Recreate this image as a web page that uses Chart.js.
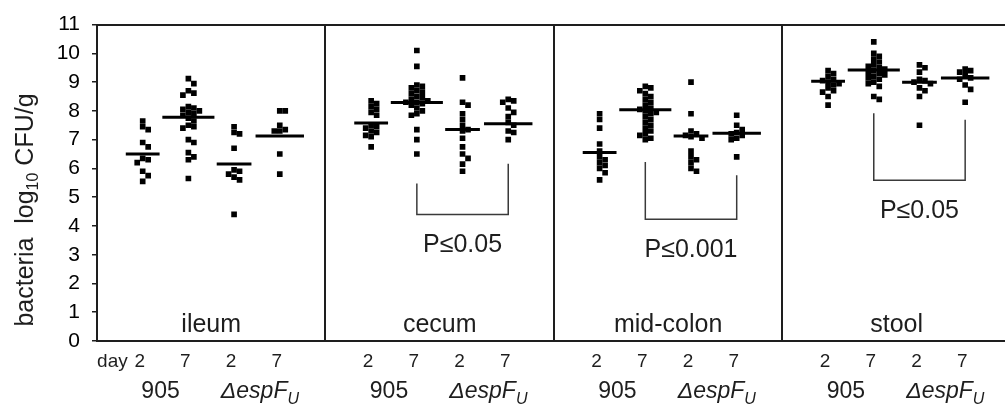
<!DOCTYPE html>
<html>
<head>
<meta charset="utf-8">
<script src="https://cdn.jsdelivr.net/npm/chart.js@4/dist/chart.umd.min.js"></script>
<style>
  html, body { margin: 0; padding: 0; background: #fff; }
  #wrap { width: 1008px; height: 410px; }
</style>
</head>
<body>
<div id="wrap"><canvas id="c"></canvas></div>
<script>
const sites = ["ileum", "cecum", "mid-colon", "stool"];
const dayLabels = ["2", "7", "2", "7"];
const strainLabels = ["905", "ΔespF"];

// log10 CFU/g, groups: 905 day 2, 905 day 7, ΔespFU day 2, ΔespFU day 7
const ileum = [
  [7.65, 7.45, 7.35, 6.9, 6.75, 6.35, 6.3, 6.2, 5.9, 5.75, 5.55],
  [9.12, 8.95, 8.7, 8.62, 8.55, 8.15, 8.1, 8.05, 8.0, 7.95, 7.9, 7.85, 7.75, 7.65, 7.5, 7.45, 7.4, 7.0, 6.9, 6.55, 6.4, 6.3, 5.65],
  [7.45, 7.25, 7.2, 6.7, 5.95, 5.9, 5.8, 5.7, 5.6, 4.4],
  [8.0, 8.0, 7.5, 7.35, 7.3, 7.3, 6.5, 5.8]
];
const cecum = [
  [8.35, 8.25, 8.15, 8.05, 7.95, 7.85, 7.5, 7.45, 7.4, 7.3, 7.25, 7.15, 7.1, 6.75],
  [10.1, 9.55, 8.9, 8.85, 8.8, 8.7, 8.65, 8.6, 8.5, 8.45, 8.4, 8.35, 8.3, 8.3, 8.25, 8.2, 8.1, 8.0, 7.9, 7.85, 7.35, 7.0, 6.5],
  [9.15, 8.3, 8.2, 7.9, 7.7, 7.5, 7.35, 7.3, 7.05, 6.75, 6.5, 6.35, 6.15, 5.9],
  [8.4, 8.35, 8.3, 8.1, 7.95, 7.8, 7.6, 7.5, 7.3, 7.25, 7.0]
];
const midColon = [
  [7.9, 7.7, 7.4, 6.85, 6.6, 6.4, 6.3, 6.2, 6.1, 6.0, 5.85, 5.6],
  [8.85, 8.8, 8.7, 8.6, 8.5, 8.4, 8.3, 8.2, 8.1, 8.05, 8.0, 7.95, 7.9, 7.8, 7.7, 7.6, 7.5, 7.4, 7.3, 7.2, 7.15, 7.05, 7.0],
  [9.0, 7.9, 7.3, 7.2, 7.15, 7.1, 7.05, 6.6, 6.4, 6.3, 6.2, 6.0, 5.9],
  [7.85, 7.5, 7.35, 7.25, 7.2, 7.15, 7.05, 7.0, 6.4]
];
const stool = [
  [9.4, 9.3, 9.2, 9.1, 9.05, 9.0, 8.95, 8.9, 8.8, 8.7, 8.65, 8.5, 8.2],
  [10.4, 10.0, 9.9, 9.8, 9.7, 9.6, 9.55, 9.5, 9.45, 9.4, 9.35, 9.3, 9.25, 9.2, 9.15, 9.1, 9.0, 8.95, 8.85, 8.5, 8.4],
  [9.6, 9.5, 9.35, 9.1, 9.05, 9.0, 8.95, 8.8, 8.7, 8.5, 7.5],
  [9.45, 9.4, 9.35, 9.25, 9.15, 9.1, 8.9, 8.75, 8.3]
];
const medians = [
  [6.5, 7.78, 6.15, 7.13],
  [7.58, 8.29, 7.35, 7.55],
  [6.55, 8.04, 7.13, 7.22],
  [9.03, 9.42, 9.0, 9.14]
];
// [site, from group, to group, left arm top, right arm top, bottom, label]
const brackets = [
  [1, 1, 3, 5.48, 6.16, 4.4, "P≤0.05"],
  [2, 1, 3, 6.22, 5.76, 4.23, "P≤0.001"],
  [3, 1, 3, 7.92, 7.69, 5.59, "P≤0.05"]
];

const allSites = [ileum, cecum, midColon, stool];
const FONT = "'Liberation Sans', Arial, sans-serif";
const INK = "#1e1e1e";
const medianHalf = [0.37, 0.57, 0.38, 0.53];
const X_MAX = 19.85;

const groupX = (s, g) => s * 5 + 1 + g;

// simple beeswarm so squares don't pile on each other
function swarm(values, cx) {
  const placed = [];
  [...values].sort((a, b) => b - a).forEach(v => {
    for (let k = 0; k < 14; k++) {
      const off = (k % 2 ? 1 : -1) * Math.ceil(k / 2) * 0.12;
      const hit = placed.some(p => Math.abs(p.x - (cx + off)) < 0.11 && Math.abs(p.y - v) < 0.17);
      if (!hit) { placed.push({ x: cx + off, y: v }); break; }
    }
  });
  return placed;
}

const datasets = [];
allSites.forEach((groups, s) => {
  groups.forEach((vals, g) => {
    datasets.push({
      type: "scatter",
      data: swarm(vals, groupX(s, g)),
      pointStyle: "rect",
      pointRadius: 4,
      backgroundColor: "#000",
      borderWidth: 0
    });
    const cx = groupX(s, g);
    datasets.push({
      type: "line",
      data: [{ x: cx - medianHalf[g], y: medians[s][g] }, { x: cx + medianHalf[g], y: medians[s][g] }],
      borderColor: "#000",
      borderWidth: 3,
      pointRadius: 0
    });
  });
});
brackets.forEach(([s, a, b, lt, rt, bot]) => {
  datasets.push({
    type: "line",
    data: [
      { x: groupX(s, a), y: lt }, { x: groupX(s, a), y: bot },
      { x: groupX(s, b), y: bot }, { x: groupX(s, b), y: rt }
    ],
    borderColor: "#3a3a3a",
    borderWidth: 1.5,
    pointRadius: 0
  });
});

const textPlugin = {
  id: "texts",
  afterDraw(chart) {
    const { ctx, scales: { x, y } } = chart;
    ctx.save();
    ctx.fillStyle = INK;
    ctx.textBaseline = "alphabetic";

    // site names
    ctx.textAlign = "center";
    ctx.font = "25px " + FONT;
    sites.forEach((s, i) => ctx.fillText(s, x.getPixelForValue(i * 5 + 2.5), y.getPixelForValue(0.33)));

    // p values
    brackets.forEach(([s, a, b, lt, rt, bot, label]) => {
      ctx.fillText(label, x.getPixelForValue(groupX(s, 2)), y.getPixelForValue(bot) + 38);
    });

    // day row
    ctx.font = "19px " + FONT;
    sites.forEach((_, s) => {
      dayLabels.forEach((d, g) => ctx.fillText(d, x.getPixelForValue(groupX(s, g)) - 3, 367));
    });
    ctx.textAlign = "right";
    ctx.fillText("day", x.getPixelForValue(1) - 15, 367);

    // strain row
    sites.forEach((_, s) => {
      ctx.textAlign = "center";
      ctx.font = "23px " + FONT;
      ctx.fillText(strainLabels[0], x.getPixelForValue(groupX(s, 0) + 0.5) - 5, 398);
      ctx.textAlign = "left";
      ctx.font = "italic 23px " + FONT;
      const w1 = ctx.measureText(strainLabels[1]).width;
      ctx.font = "italic 16px " + FONT;
      const w2 = ctx.measureText("U").width;
      const left = x.getPixelForValue(groupX(s, 2) + 0.5) + 3 - (w1 + w2) / 2;
      ctx.font = "italic 23px " + FONT;
      ctx.fillText(strainLabels[1], left, 398);
      ctx.font = "italic 16px " + FONT;
      ctx.fillText("U", left + w1, 404);
    });

    // y axis title with subscript
    ctx.translate(33, 210);
    ctx.rotate(-Math.PI / 2);
    ctx.textAlign = "left";
    const parts = [["bacteria  log", "25px", 0], ["10", "16px", 5], [" CFU/g", "25px", 0]];
    let total = 0;
    parts.forEach(p => { ctx.font = p[1] + " " + FONT; total += ctx.measureText(p[0]).width; });
    let pos = -total / 2;
    parts.forEach(p => {
      ctx.font = p[1] + " " + FONT;
      ctx.fillText(p[0], pos, p[2]);
      pos += ctx.measureText(p[0]).width;
    });
    ctx.restore();
  }
};

new Chart(document.getElementById("c"), {
  type: "scatter",
  data: { datasets },
  options: {
    responsive: true,
    maintainAspectRatio: false,
    animation: false,
    devicePixelRatio: 1,
    layout: { padding: 0 },
    plugins: { legend: { display: false }, tooltip: { enabled: false } },
    scales: {
      x: {
        type: "linear",
        position: "bottom",
        min: 0,
        max: X_MAX,
        afterBuildTicks: s => { s.ticks = [5, 10, 15].map(v => ({ value: v })); },
        afterFit: s => { s.height = 69; },
        ticks: { display: false },
        grid: { drawOnChartArea: true, drawTicks: false, color: INK, lineWidth: 2 },
        border: { display: true, color: INK, width: 2 }
      },
      xTop: {
        type: "linear",
        position: "top",
        min: 0,
        max: X_MAX,
        afterFit: s => { s.height = 18; },
        ticks: { display: false },
        grid: { display: false },
        border: { display: true, color: INK, width: 2 }
      },
      y: {
        min: 0,
        max: 11,
        afterFit: s => { s.width = 97; },
        ticks: { stepSize: 1, padding: 12, color: "#000", font: { family: FONT, size: 21 } },
        grid: { drawOnChartArea: false, drawTicks: true, tickLength: 5, color: INK, lineWidth: 1.5 },
        border: { display: true, color: INK, width: 2 }
      }
    }
  },
  plugins: [textPlugin]
});
</script>
</body>
</html>
